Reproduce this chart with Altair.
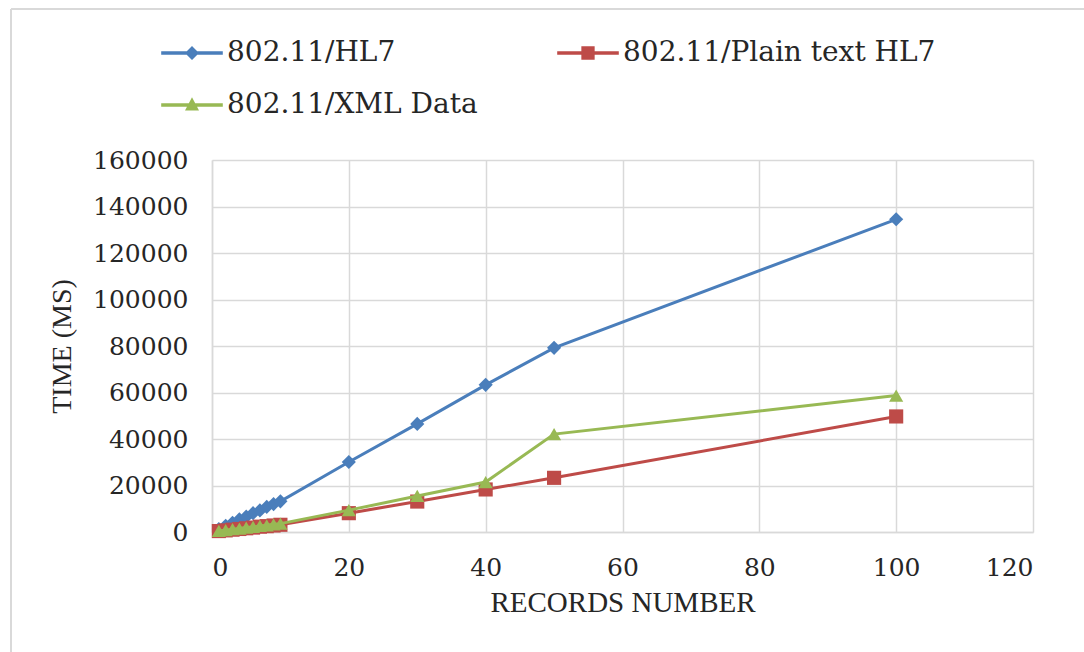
import altair as alt
import pandas as pd

# Transfer time (ms) over 802.11 for increasing numbers of records
records = [1, 2, 3, 4, 5, 6, 7, 8, 9, 10, 20, 30, 40, 50, 100]
hl7_ms = [1300, 2700, 4000, 5400, 6600, 8100, 9300, 10800, 12000, 13200, 30100, 46500, 63300, 79200, 134500]
plain_ms = [400, 700, 1000, 1300, 1600, 1900, 2300, 2500, 2800, 3100, 8100, 13100, 18300, 23300, 49700]
xml_ms = [500, 800, 1200, 1500, 1900, 2200, 2600, 2900, 3300, 3600, 9400, 15500, 21500, 42100, 58700]

series_names = ["802.11/HL7", "802.11/Plain text HL7", "802.11/XML Data"]
series_colors = ["#4a7ebb", "#be4b48", "#98b954"]
marker_shapes = ["diamond", "square", "triangle-up"]

x_ticks = [0, 20, 40, 60, 80, 100, 120]
y_ticks = [0, 20000, 40000, 60000, 80000, 100000, 120000, 140000, 160000]

rows = []
for name, vals in zip(series_names, [hl7_ms, plain_ms, xml_ms]):
    for r, v in zip(records, vals):
        rows.append({"series": name, "records": r, "time": v})
df = pd.DataFrame(rows)

GRID = "#d9d9d9"
TICK_FONT = "DejaVu Serif"
TITLE_FONT = "Liberation Serif"

x_enc = alt.X(
    "records:Q",
    scale=alt.Scale(domain=[0, 120], nice=False, zero=True),
    axis=alt.Axis(values=x_ticks, title="RECORDS NUMBER", format="d", titleFontSize=29),
)
y_enc = alt.Y(
    "time:Q",
    scale=alt.Scale(domain=[0, 160000], nice=False),
    axis=alt.Axis(values=y_ticks, title="TIME (MS)", format="d"),
)

layers = []

# light frame edges (left and top) around the figure
edge_src = alt.Chart(pd.DataFrame({"k": [0]}))
layers.append(
    edge_src.mark_rule(color=GRID, strokeWidth=2).encode(
        x=alt.value(-201), y=alt.value(-151), y2=alt.value(492)
    )
)
layers.append(
    edge_src.mark_rule(color=GRID, strokeWidth=2).encode(
        x=alt.value(-201), x2=alt.value(872), y=alt.value(-151)
    )
)

for name, color, shape in zip(series_names, series_colors, marker_shapes):
    sub = alt.Chart(df).transform_filter(alt.datum.series == name)
    layers.append(sub.mark_line(color=color, strokeWidth=3).encode(x=x_enc, y=y_enc))
    layers.append(
        sub.mark_point(filled=True, shape=shape, size=200, color=color, opacity=1).encode(
            x=x_enc, y=y_enc
        )
    )

# legend-only layer: line-with-marker glyphs
line_part = "M-4.4,-0.24 L4.4,-0.24 L4.4,0.24 L-4.4,0.24 Z "
legend_paths = [
    line_part + "M0,-1 L1,0 L0,1 L-1,0 Z",
    line_part + "M-0.95,-0.95 L0.95,-0.95 L0.95,0.95 L-0.95,0.95 Z",
    line_part + "M0,-1.1 L1,0.8 L-1,0.8 Z",
]
legend_layer = (
    alt.Chart(df)
    .transform_filter("false")
    .mark_point(filled=True, size=196, opacity=1)
    .encode(
        color=alt.Color(
            "series:N",
            scale=alt.Scale(domain=series_names, range=series_colors),
            legend=alt.Legend(
                title=None,
                orient="none",
                direction="horizontal",
                legendX=-34,
                legendY=-121,
                columns=2,
                columnPadding=79,
                rowPadding=24,
                symbolSize=196,
                symbolStrokeWidth=0,
                symbolOpacity=1,
                labelOffset=21,
                labelFont=TICK_FONT,
                labelFontSize=28,
                labelColor="#262626",
                labelLimit=600,
            ),
        ),
        shape=alt.Shape(
            "series:N",
            scale=alt.Scale(domain=series_names, range=legend_paths),
        ),
    )
)
layers.append(legend_layer)

chart = (
    alt.layer(*layers)
    .properties(
        width=821,
        height=372,
        padding={"left": 212, "top": 160, "right": 51, "bottom": 120},
        autosize=alt.AutoSizeParams(type="none"),
    )
    .configure_view(stroke=None)
    .configure_axis(
        grid=True,
        gridColor=GRID,
        gridWidth=1.5,
        domainColor=GRID,
        domainWidth=1.5,
        ticks=False,
        labelFont=TICK_FONT,
        labelFontSize=25,
        labelColor="#262626",
        titleFont=TITLE_FONT,
        titleFontSize=28,
        titleFontWeight="normal",
        titleColor="#262626",
    )
    .configure_axisX(labelPadding=23, titlePadding=8)
    .configure_axisY(labelPadding=24, titlePadding=16)
)

chart.save("out.html", embed_options={"renderer": "svg", "actions": False})
